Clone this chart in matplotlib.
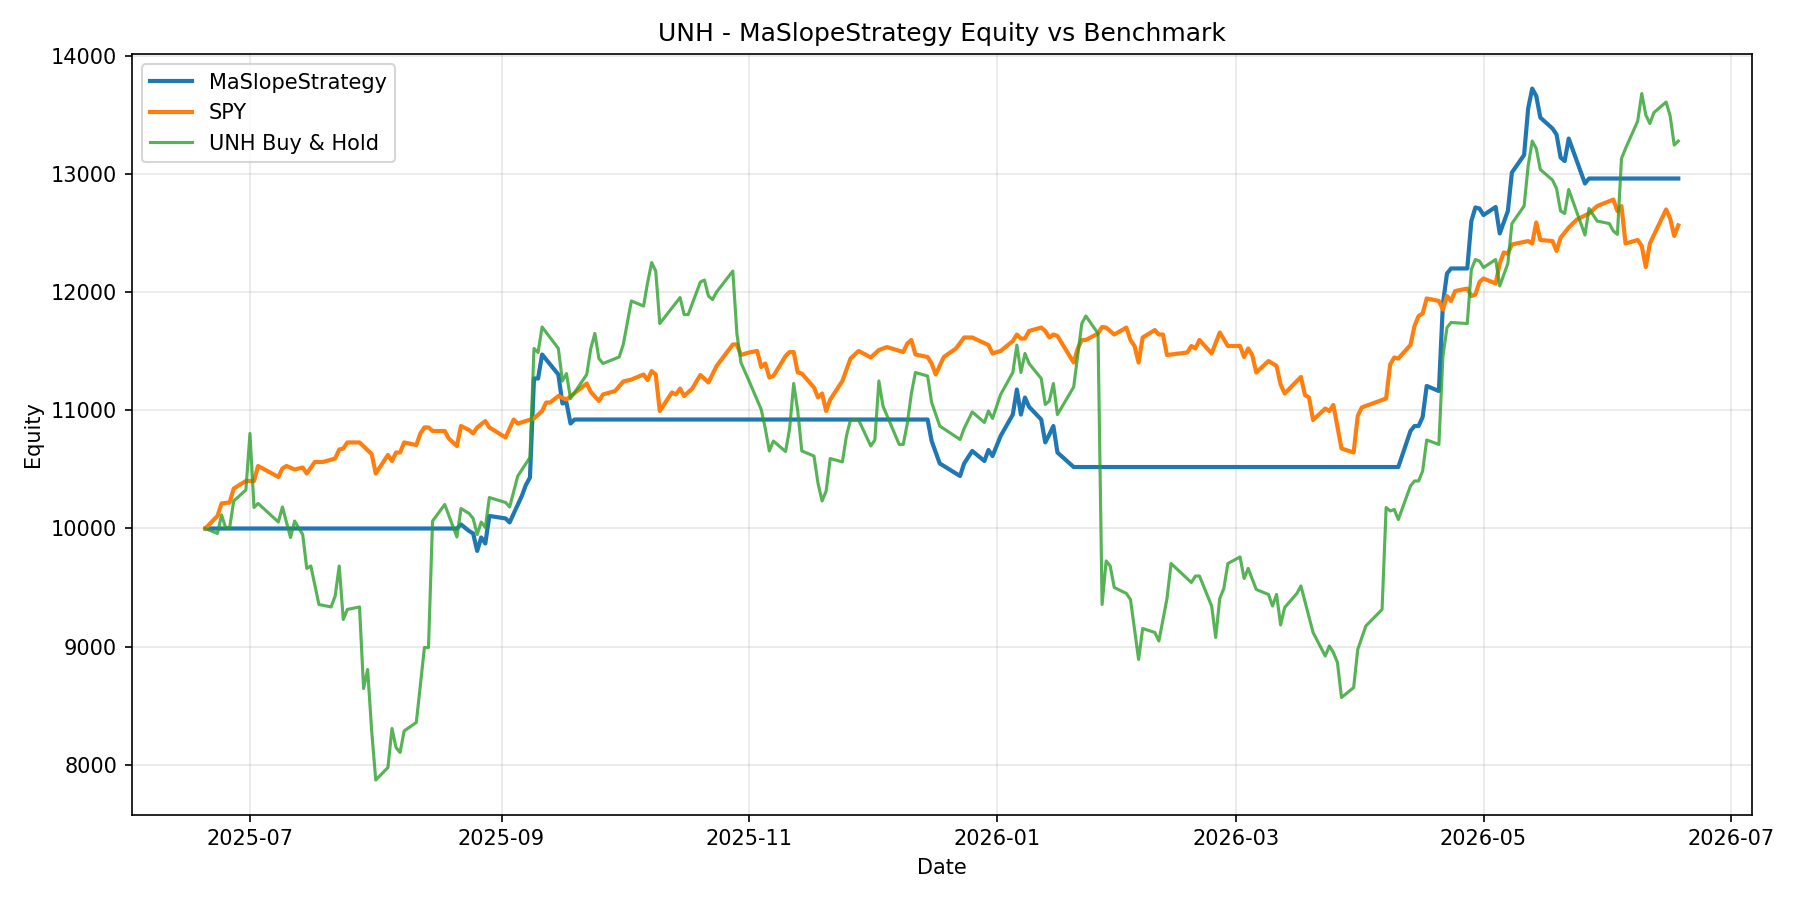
import numpy as np
import pandas as pd
import matplotlib
matplotlib.use('Agg')
import matplotlib.pyplot as plt

# Startdatum, Werte als Tage seit Start
start = pd.Timestamp('2025-06-20')

# MaSlopeStrategy
strat_days = [0, 62, 63, 65, 66, 67, 68, 69, 70, 74, 75, 76, 78, 79, 80, 81, 82, 83, 87, 88, 89, 90, 91,
              178, 179, 181, 186, 187, 189, 192, 193, 194, 196, 199, 200, 201, 202, 203, 206, 207, 208, 209, 210, 214,
              294, 297, 298, 299, 300, 301, 304, 305, 306, 307, 311, 312, 313, 314, 315, 318, 319, 321, 322, 325,
              326, 327, 328, 329, 332, 333, 334, 335, 336, 340, 341, 363]
strat_equity = [10000, 10000, 10034, 9979, 9958, 9810, 9924, 9873, 10106, 10085, 10051, 10127, 10275, 10368, 10431,
                11269, 11269, 11472, 11303, 11058, 11066, 10888, 10922,
                10922, 10740, 10550, 10444, 10550, 10656, 10571, 10664, 10613, 10783, 10964, 11176, 10964, 11108,
                11030, 10922, 10728, 10795, 10867, 10643, 10520,
                10520, 10825, 10867, 10867, 10943, 11206, 11163, 11904, 12157, 12200, 12200, 12601, 12716, 12707,
                12652, 12720, 12496, 12686, 13012, 13160, 13553, 13722, 13659, 13477, 13384, 13333, 13139, 13109,
                13299, 12919, 12961, 12961]

# SPY Benchmark
spy_days = [0, 3, 4, 6, 7, 10, 12, 13, 18, 19, 20, 22, 24, 25, 27, 29, 32, 33, 34, 35, 38, 41, 42, 45, 46, 47,
            48, 49, 52, 53, 54, 55, 56, 59, 60, 62, 63, 65, 66, 67, 69, 70, 74, 76, 77, 81, 83, 84, 85, 87, 89,
            94, 95, 97, 98, 101, 103, 105, 108, 109, 110, 111, 112, 115, 116, 117, 118, 120, 122, 124, 126, 130,
            131, 132, 134, 136, 137, 138, 139, 140, 143, 144, 145, 146, 147, 150, 151, 152, 153, 154, 157, 159,
            161, 164, 166, 168, 172, 173, 174, 175, 178, 179, 180, 182, 185, 187, 189, 193, 194, 196, 199, 200,
            201, 202, 203, 206, 207, 208, 209, 210, 214, 215, 216, 217, 220, 221, 222, 224, 227, 228, 229, 230,
            231, 234, 235, 236, 237, 242, 243, 244, 245, 248, 250, 252, 255, 256, 257, 258, 259, 262, 264, 265,
            266, 270, 271, 272, 273, 276, 277, 278, 280, 283, 284, 285, 291, 292, 293, 294, 297, 298, 299, 300,
            301, 304, 305, 306, 307, 308, 311, 312, 313, 314, 315, 318, 319, 320, 321, 322, 326, 327, 328, 329,
            332, 333, 334, 336, 338, 341, 343, 347, 348, 349, 350, 353, 354, 355, 356, 360, 361, 362, 363]
spy_equity = [10000, 10106, 10212, 10220, 10338, 10402, 10402, 10529, 10436, 10508, 10529, 10499, 10516, 10465,
              10563, 10563, 10592, 10668, 10677, 10728, 10728, 10630, 10465, 10622, 10571, 10643,
              10643, 10728, 10706, 10804, 10855, 10855, 10825, 10825, 10761, 10698, 10867, 10833, 10804, 10855,
              10909, 10855, 10770, 10922, 10888, 10931, 10994, 11066, 11066, 11121, 11091,
              11227, 11155, 11079, 11134, 11163, 11244, 11260, 11303, 11256, 11332, 11303, 10994, 11151, 11134,
              11184, 11121, 11184, 11299, 11235, 11375, 11557,
              11557, 11468, 11489, 11502, 11366, 11396, 11277, 11290, 11459, 11493, 11493, 11320, 11311, 11193,
              11108, 11142, 10994, 11091, 11248, 11438,
              11502, 11447, 11510, 11535, 11493, 11565, 11595, 11472, 11451, 11396, 11303, 11451, 11523, 11616,
              11616, 11552, 11481, 11502, 11586, 11641,
              11607, 11607, 11671, 11700, 11671, 11616, 11641, 11629, 11404, 11523, 11595, 11595, 11650, 11705,
              11700, 11641, 11700, 11595, 11544, 11404,
              11616, 11679, 11641, 11641, 11468, 11489, 11544, 11523, 11595, 11481, 11658, 11544, 11544, 11451,
              11523, 11468, 11320, 11417, 11375, 11218,
              11142, 11282, 11129, 11108, 10918, 11015, 10994, 11045, 10677, 10643, 10952, 11024, 11100, 11387,
              11447, 11438, 11552, 11713, 11798, 11819,
              11946, 11925, 11853, 11967, 11925, 12009, 12030, 11967, 11980, 12085, 12115, 12073, 12242, 12335,
              12326, 12403, 12432, 12411, 12589, 12441,
              12432, 12348, 12460, 12546, 12614, 12665, 12728, 12783, 12686, 12728, 12411, 12441, 12390, 12212,
              12411, 12699, 12623, 12475, 12565]

# UNH Buy & Hold
unh_days = [0, 3, 4, 5, 6, 7, 10, 11, 12, 13, 18, 19, 21, 22, 24, 25, 26, 28, 31, 32, 33, 34, 35, 38, 39, 40,
            41, 42, 45, 46, 47, 48, 49, 52, 54, 55, 56, 59, 62, 63, 65, 66, 67, 68, 69, 70, 74, 75, 77, 80, 81,
            82, 83, 87, 88, 89, 90, 94, 95, 96, 97, 98, 102, 103, 105, 108, 109, 110, 111, 112, 117, 118, 119,
            122, 123, 124, 125, 126, 130, 131, 132, 134, 137, 138, 139, 140, 143, 144, 145, 146, 147, 150, 151,
            152, 153, 154, 157, 158, 159, 161, 164, 165, 166, 167, 171, 172, 173, 174, 175, 178, 179, 181, 186,
            187, 189, 192, 193, 194, 196, 199, 200, 201, 202, 203, 206, 207, 208, 209, 210, 214, 216, 217, 220,
            221, 222, 223, 224, 227, 228, 230, 231, 234, 235, 237, 238, 243, 244, 245, 248, 249, 250, 251, 252,
            255, 256, 257, 259, 262, 263, 264, 265, 266, 269, 270, 273, 276, 277, 278, 279, 280, 283, 284, 286,
            290, 291, 292, 293, 294, 297, 298, 299, 300, 301, 304, 305, 306, 307, 311, 312, 313, 314, 315, 318,
            319, 321, 322, 325, 326, 327, 328, 329, 332, 333, 334, 335, 336, 340, 341, 343, 346, 347, 348, 349,
            350, 353, 354, 355, 356, 357, 360, 361, 362, 363]
unh_equity = [10000, 9958, 10114, 10008, 10008, 10233, 10326, 10804, 10178, 10212, 10055, 10182, 9924, 10063,
              9949, 9662, 9683, 9357, 9336, 9429, 9683, 9230, 9315, 9336, 8646, 8807,
              8287, 7872, 7978, 8308, 8147, 8105, 8287, 8359, 8993, 8993, 10063, 10203, 9928, 10169, 10127, 10085,
              9949, 10055, 10008, 10262, 10220, 10182, 10444, 10601, 11523,
              11489, 11705, 11523, 11248, 11311, 11100, 11303, 11523, 11650, 11438, 11396, 11451, 11557, 11925,
              11882, 12081, 12250, 12178, 11734, 11954, 11810, 11810,
              12085, 12102, 11967, 11937, 12001, 12178, 11650, 11404, 11248, 11007, 10846, 10656, 10740, 10651,
              10846, 11227, 10994, 10656, 10613, 10381,
              10233, 10317, 10592, 10563, 10783, 10918, 10918, 10698, 10749, 11248, 11036, 10711, 10711, 10888,
              11142, 11320, 11290, 11066, 10867, 10753,
              10846, 10986, 10897, 10994, 10931, 11134, 11320, 11552, 11320, 11481, 11396, 11269, 11049, 11079,
              11227, 10964, 11197, 11734, 11798, 11650,
              9357, 9725, 9683, 9501, 9450, 9399, 8892, 9154, 9120, 9048, 9408, 9704, 9543, 9598, 9598, 9344,
              9078, 9408, 9492, 9704,
              9759, 9577, 9662, 9484, 9442, 9344, 9442, 9184, 9332, 9450, 9514, 9120, 8921, 9006, 8951, 8866,
              8570, 8654, 8976, 9175,
              9315, 10178, 10148, 10161, 10076, 10360, 10402, 10402, 10486, 10749, 10711, 11459, 11700, 11743,
              11734, 12191, 12276, 12263, 12208, 12276,
              12052, 12242, 12580, 12728, 13067, 13278, 13215, 13037, 12948, 12876, 12686, 12665, 12868, 12483,
              12707, 12601, 12580, 12517, 12488, 13130,
              13215, 13447, 13680, 13498, 13426, 13519, 13608, 13490, 13244, 13278]

strat_dates = start + pd.to_timedelta(strat_days, unit='D')
spy_dates = start + pd.to_timedelta(spy_days, unit='D')
unh_dates = start + pd.to_timedelta(unh_days, unit='D')

fig, ax = plt.subplots(figsize=(12, 6), dpi=150)
ax.plot(strat_dates, strat_equity, color='#1f77b4', linewidth=2, label="MaSlopeStrategy")
ax.plot(spy_dates, spy_equity, color='#ff7f0e', linewidth=2, label="SPY")
ax.plot(unh_dates, unh_equity, color='#2ca02c', linewidth=1.5, alpha=0.8, label="UNH Buy & Hold")
ax.set_title("UNH - MaSlopeStrategy Equity vs Benchmark")
ax.set_xlabel("Date")
ax.set_ylabel("Equity")
ax.grid(alpha=0.3)
ax.legend(loc='upper left')
fig.tight_layout()
fig.savefig('out.png')
